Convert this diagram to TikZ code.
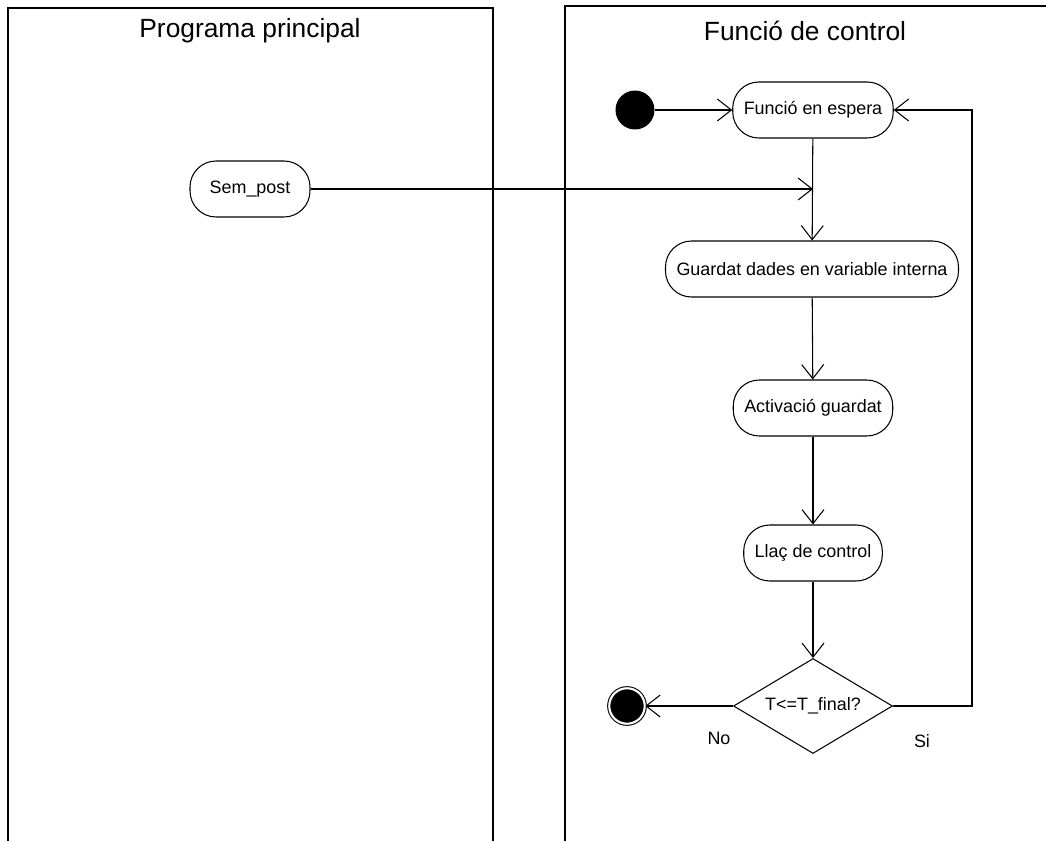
\documentclass[tikz,border=0pt]{standalone}
\usepackage{fontspec}
\setmainfont{Liberation Sans}
\usetikzlibrary{arrows.meta,shapes.geometric,calc}
\tikzset{
    lane/.style =   {draw=black,
                    line width=0.8pt},
    lanetitle/.style = {text=black,
                    font=\fontsize{15}{18}\selectfont},
    action/.style = {rectangle,
                    rounded corners=0.52cm,
                    fill=white,
                    draw=black,
                    text=black,
                    line width=0.6pt,
                    minimum height=1.12cm,
                    inner xsep=0.22cm,
                    font=\fontsize{10.2}{12}\selectfont},
    decision/.style = {diamond,
                    aspect=1.68,
                    fill=white,
                    draw=black,
                    text=black,
                    line width=0.6pt,
                    minimum width=3.18cm,
                    minimum height=1.9cm,
                    inner sep=0pt,
                    font=\fontsize{10.2}{12}\selectfont},
    start/.style =  {circle,
                    fill=black,
                    minimum size=0.78cm,
                    inner sep=0pt},
    stop/.style =   {circle,
                    fill=black,
                    draw=black,
                    double=white,
                    double distance=1.2pt,
                    line width=0.6pt,
                    minimum size=0.71cm,
                    inner sep=0pt},
    guard/.style =  {text=black,
                    font=\fontsize{10.2}{12}\selectfont},
    flow/.style =   {->,
                    line width=0.6pt,
                    draw=black},
    >={Straight Barb[length=8pt,width=12.5pt]}}

\begin{document}
\begin{tikzpicture}[x=0.02cm,y=-0.02cm]
            \useasboundingbox (0,0) rectangle (1046,841);
            % swimlanes
            \draw[lane] (8,841) -- (8,8) -- (493,8) -- (493,841);
            \draw[lane] (565,841) -- (565,6) -- (1046,6);
            \node[lanetitle] (main) at (250,31)  {Programa principal};
            \node[lanetitle] (ctrl) at (805,31)  {Funció de control};

            \node[action]   (sem)     at (250,189) [minimum width=2.4cm] {Sem\_post};
            \node[start]    (init)    at (635,110) {};
            \node[action]   (espera)  at (813,110) {Funció en espera};
            \node[action]   (guardat) at (812,269) {Guardat dades en variable interna};
            \node[action]   (activ)   at (813,408) {Activació guardat};
            \node[action]   (llac)    at (813,553) {Llaç de control};
            \node[decision] (dec)     at (813,706) {T<=T\_final?};
            \node[stop]     (fi)      at (627,706) {};
            \node[guard]    (no)      at (719,738) {No};
            \node[guard]    (si)      at (922,741) {Si};
            \coordinate (join)   at (813,189);
            \coordinate (siturn) at (972,110);

            \draw[flow] (init) -- (espera);
            \draw[flow] (sem) -- (join);
            \draw[flow] (espera) -- (guardat);
            \draw[flow] (guardat) -- (activ);
            \draw[flow] (activ) -- (llac);
            \draw[flow] (llac) -- (dec);
            \draw[flow] (dec) -- (fi);
            \draw[flow] (dec.east) -| (siturn) -- (espera.east);
        \end{tikzpicture}
\end{document}
